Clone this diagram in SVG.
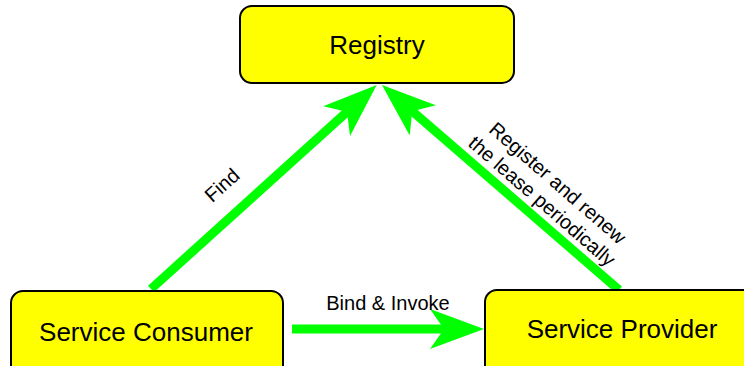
<svg xmlns="http://www.w3.org/2000/svg" width="744" height="366" viewBox="0 0 744 366">
  <style>
    .node rect { fill: #ffff00; stroke: #000000; stroke-width: 2; }
    .node text { font-family: "Liberation Sans", Arial, sans-serif; font-size: 26px; fill: #000000; text-anchor: middle; }
    .edge { stroke: #00ff00; stroke-width: 9; fill: none; marker-end: url(#head); }
    .label { font-family: "Liberation Sans", Arial, sans-serif; font-size: 20px; fill: #000000; text-anchor: middle; }
  </style>
  <defs>
    <!-- concave green arrowhead; the line stops at the notch -->
    <marker id="head" markerUnits="userSpaceOnUse" viewBox="0 -25 60 50" markerWidth="60" markerHeight="50" refX="14" refY="0" orient="auto" overflow="visible">
      <path d="M54,0 L0,-20 L14,0 L0,20 Z" fill="#00ff00"/>
    </marker>
  </defs>

  <rect width="744" height="366" fill="#ffffff"/>

  <g id="connectors">
    <line class="edge" x1="151" y1="289" x2="347" y2="111.8"/>
    <line class="edge" x1="619" y1="290" x2="412.2" y2="111.2"/>
    <line class="edge" x1="292" y1="329" x2="444" y2="329"/>
    <g transform="translate(222,185) rotate(-42)">
      <text class="label" x="0" y="7">Find</text>
    </g>
    <g transform="translate(550,192) rotate(41)">
      <text class="label" x="0" y="-5">Register and renew</text>
      <text class="label" x="0" y="19">the lease periodically</text>
    </g>
    <text class="label" x="388" y="309.5">Bind &amp; Invoke</text>
  </g>

  <g id="registry" class="node">
    <rect x="240" y="6" width="274" height="77" rx="12"/>
    <text x="377" y="54">Registry</text>
  </g>

  <g id="service-consumer" class="node">
    <rect x="11" y="291" width="272" height="90" rx="12"/>
    <text x="146" y="340.5">Service Consumer</text>
  </g>

  <g id="service-provider" class="node">
    <rect x="485" y="290" width="270" height="90" rx="12"/>
    <text x="622" y="338">Service Provider</text>
  </g>
</svg>
